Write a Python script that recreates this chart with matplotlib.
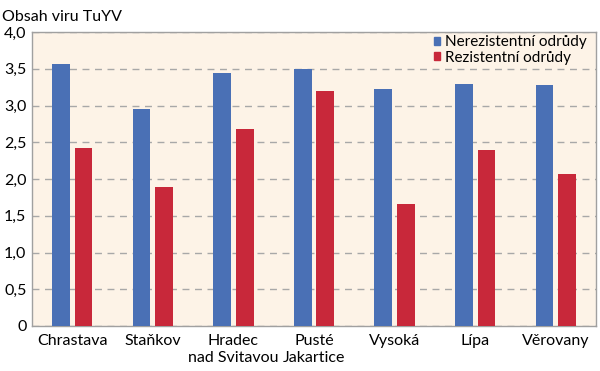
import numpy as np
import matplotlib.pyplot as plt
from matplotlib.patches import Patch

# data
lokality = ['Chrastava', 'Staňkov', 'Hradec\nnad Svitavou', 'Pusté\nJakartice',
            'Vysoká', 'Lípa', 'Věrovany']
nerezistentni = [3.56, 2.95, 3.44, 3.49, 3.23, 3.29, 3.28]
rezistentni = [2.42, 1.89, 2.68, 3.20, 1.66, 2.40, 2.07]
yticks = [0, 0.5, 1.0, 1.5, 2.0, 2.5, 3.0, 3.5, 4.0]
ylabels = ['0', '0,5', '1,0', '1,5', '2,0', '2,5', '3,0', '3,5', '4,0']

blue = '#4a70b5'
red = '#c8283a'

plt.rcParams['font.family'] = ['Lato', 'DejaVu Sans']

fig = plt.figure(figsize=(6, 3.71), dpi=100)
ax = fig.add_axes([0.0533, 0.1213, 0.94, 0.7924])
ax.set_facecolor('#fdf3e7')

x = np.arange(len(lokality))
w = 0.22
ax.bar(x - 0.14, nerezistentni, w, color=blue, zorder=3)
ax.bar(x + 0.14, rezistentni, w, color=red, zorder=3)

ax.set_xlim(-0.5, len(lokality) - 0.5)
ax.set_ylim(0, 4.0)
ax.set_yticks(yticks)
ax.set_yticklabels(ylabels, fontsize=11.5)
ax.set_xticks(x)
ax.set_xticklabels(lokality, fontsize=11.5, linespacing=1.2)
ax.tick_params(length=0, pad=4)
ax.tick_params(axis='x', pad=6)
ax.yaxis.grid(True, color='#a8a8a8', linestyle=(0, (5, 4)), linewidth=1.0, zorder=1)
for s in ax.spines.values():
    s.set_color('#a0a0a0')
    s.set_linewidth(1.0)

handles = [Patch(color=blue, label='Nerezistentní odrůdy'),
           Patch(color=red, label='Rezistentní odrůdy')]
ax.legend(handles=handles, loc='upper right', frameon=False, fontsize=11,
          handlelength=0.45, handleheight=0.45, handletextpad=0.3,
          labelspacing=0.1, borderaxespad=0, borderpad=0,
          bbox_to_anchor=(0.978, 0.905), bbox_transform=fig.transFigure)

fig.text(0.003, 0.955, 'Obsah viru TuYV', fontsize=11.5, va='center', ha='left')

fig.savefig('out.png', dpi=100)
